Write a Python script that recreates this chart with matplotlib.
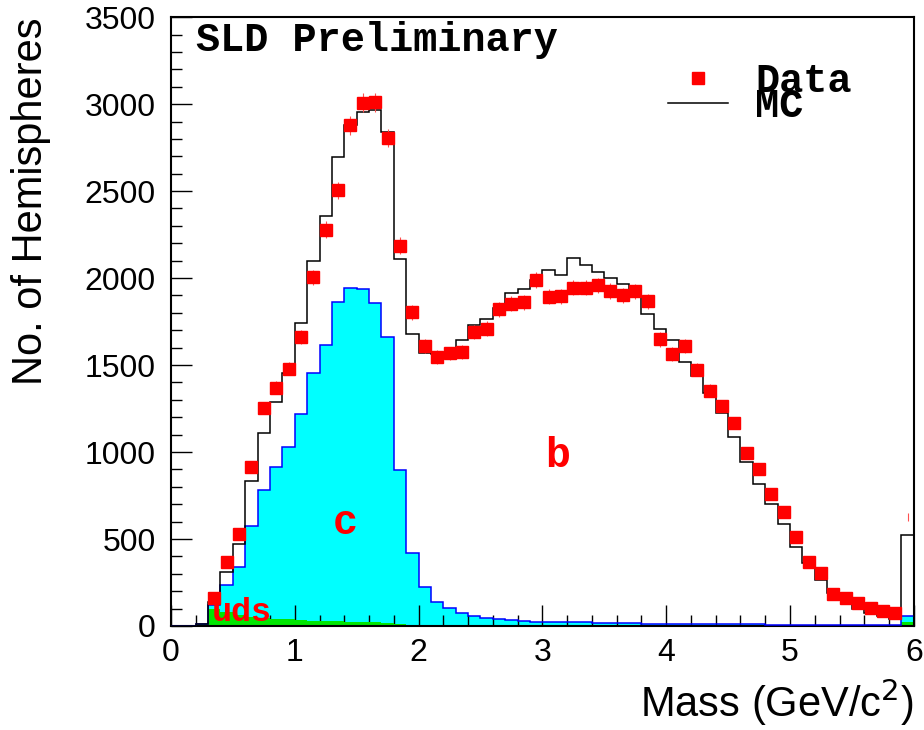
import numpy as np
import matplotlib
matplotlib.use("Agg")
import matplotlib.pyplot as plt
from matplotlib.ticker import MultipleLocator
from matplotlib.lines import Line2D

# 60 bins of 0.1 GeV/c^2 from 0 to 6
edges = np.round(np.arange(0, 6.01, 0.1), 2)
centers = edges[:-1] + 0.05

# MC total (b + c + uds)
mc = [0, 0, 12, 135, 312, 469, 833, 1107, 1289, 1452,
      1740, 2098, 2358, 2694, 2879, 2952, 2969, 2841, 2107, 1678,
      1571, 1563, 1563, 1644, 1730, 1762, 1826, 1916, 1935, 1988,
      2046, 2017, 2113, 2073, 2033, 1998, 1965, 1893, 1793, 1707,
      1644, 1519, 1437, 1340, 1222, 1084, 941, 814, 699, 584,
      456, 360, 266, 188, 147, 100, 73, 60, 40, 523]

# c + uds
c_uds = [0, 0, 12, 120, 236, 341, 575, 782, 916, 1027,
         1218, 1457, 1615, 1860, 1941, 1935, 1858, 1659, 895, 421,
         226, 140, 105, 73, 59, 45, 42, 33, 29, 25,
         21, 21, 20, 20, 18, 17, 16, 15, 14, 13,
         12, 12, 11, 11, 10, 10, 9, 9, 8, 8,
         8, 7, 7, 6, 6, 6, 5, 5, 5, 55]

# uds
uds = [0, 0, 5, 100, 80, 65, 52, 45, 40, 38,
       32, 30, 27, 26, 25, 24, 21, 19, 12, 8,
       5, 4, 3, 3, 3, 3, 2, 2, 2, 2,
       2, 2, 2, 2, 2, 2, 2, 2, 2, 2,
       2, 2, 2, 2, 2, 2, 2, 2, 2, 2,
       2, 2, 2, 2, 2, 2, 2, 2, 2, 20]

# data
data = [np.nan, np.nan, np.nan, 162, 367, 528, 915, 1253, 1369, 1479,
        1663, 2004, 2279, 2505, 2879, 3009, 3011, 2806, 2187, 1804,
        1611, 1548, 1567, 1573, 1691, 1710, 1820, 1852, 1860, 1988,
        1892, 1896, 1944, 1944, 1958, 1925, 1900, 1923, 1866, 1647,
        1565, 1609, 1473, 1352, 1264, 1165, 996, 904, 756, 657,
        513, 369, 302, 184, 159, 134, 101, 88, 76, 626]

data = np.array(data, dtype=float)
err = np.sqrt(data)

plt.rcParams['font.family'] = ['Liberation Sans', 'DejaVu Sans']
mono = {'family': 'Liberation Mono', 'weight': 'bold'}

fig = plt.figure(figsize=(9.24, 7.30), dpi=100)
ax = fig.add_axes([0.185, 0.1425, 0.804, 0.834])

ax.stairs(c_uds, edges, fill=True, color='#00ffff', zorder=1)
ax.stairs(uds, edges, fill=True, color='#00e600', zorder=2)
ax.stairs(c_uds, edges, color='#0000ff', lw=1.1, baseline=None, zorder=3)
ax.stairs(mc, edges, color='black', lw=1.1, zorder=4)

ax.errorbar(centers, data, yerr=err, fmt='none', ecolor='#ff5050', elinewidth=0.8, zorder=5)
ax.plot(centers[:-1], data[:-1], 's', color='red', ms=8.5, mec='red', zorder=6)

# labels inside the plot
ax.text(0.2, 3370, 'SLD Preliminary', fontdict=mono, fontsize=29, color='black', va='center')
ax.text(3.12, 975, 'b', fontdict=mono, fontsize=30, color='red', ha='center', va='center')
ax.text(1.41, 592, 'c', fontdict=mono, fontsize=30, color='red', ha='center', va='center')
ax.text(0.57, 80, 'uds', fontdict=mono, fontsize=24, color='red', ha='center', va='center')

handles = [Line2D([], [], marker='s', color='red', ls='none', ms=8.5),
           Line2D([], [], color='black', lw=1.1)]
leg = ax.legend(handles, ['Data', 'MC'], loc='upper left', bbox_to_anchor=(0.642, 0.96),
                frameon=False, prop={'family': 'Liberation Mono', 'weight': 'bold', 'size': 29},
                handlelength=1.5, handletextpad=0.67, labelspacing=-0.32, borderpad=0)

ax.set_xlim(0, 6)
ax.set_ylim(0, 3500)
ax.xaxis.set_major_locator(MultipleLocator(1))
ax.xaxis.set_minor_locator(MultipleLocator(0.2))
ax.yaxis.set_major_locator(MultipleLocator(500))
ax.yaxis.set_minor_locator(MultipleLocator(100))
ax.tick_params(which='both', direction='in', top=False, right=False, width=1.0,
               labelsize=23)
ax.tick_params(axis='y', which='major', length=15, pad=11)
ax.tick_params(axis='y', which='minor', length=8)
ax.tick_params(axis='x', which='major', length=15, pad=9)
ax.tick_params(axis='x', which='minor', length=8)
for s in ax.spines.values():
    s.set_linewidth(1.5)

ax.set_xlabel('Mass (GeV/c$^2$)', fontsize=30, loc='right', labelpad=6)
ax.set_ylabel('No. of Hemispheres', fontsize=30, loc='top', labelpad=24)

fig.savefig('out.png', dpi=100)
